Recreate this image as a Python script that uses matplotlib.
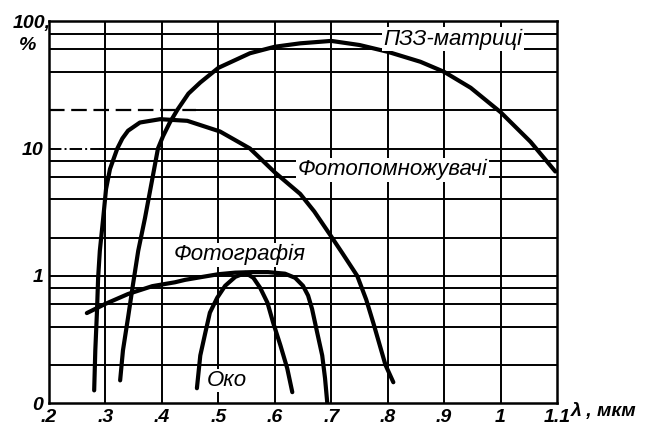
import matplotlib.pyplot as plt

plt.rcParams['font.family'] = ['Liberation Sans', 'DejaVu Sans']

# wavelength (мкм) / sensitivity (%)
ccd_x = [0.326, 0.331, 0.340, 0.349, 0.358, 0.370, 0.384, 0.393, 0.402, 0.414, 0.427, 0.447,
         0.468, 0.500, 0.556, 0.600, 0.645, 0.700, 0.750, 0.800, 0.858, 0.900, 0.947, 1.000,
         1.053, 1.097]
ccd_y = [0.151, 0.26, 0.47, 0.87, 1.57, 2.84, 6.1, 10.0, 12.5, 16.0, 20.0, 27.0,
         33.0, 43.0, 56.0, 63.0, 67.0, 70.0, 65.0, 57.5, 48.0, 40.0, 30.0, 19.3,
         11.3, 6.6]

pmt_x = [0.280, 0.282, 0.285, 0.287, 0.290, 0.296, 0.301, 0.308, 0.321, 0.330, 0.340, 0.361,
         0.397, 0.445, 0.503, 0.556, 0.600, 0.645, 0.670, 0.698, 0.720, 0.746, 0.762,
         0.775, 0.796, 0.810]
pmt_y = [0.126, 0.26, 0.53, 0.965, 1.57, 2.84, 4.8, 6.9, 10.0, 12.0, 13.8, 16.0,
         17.0, 16.5, 13.6, 10.0, 6.5, 4.4, 3.2, 2.1, 1.5, 1.0, 0.65,
         0.42, 0.20, 0.146]

photo_x = [0.267, 0.299, 0.340, 0.383, 0.423, 0.441, 0.471, 0.500, 0.530, 0.560, 0.588,
           0.618, 0.636, 0.650, 0.659, 0.666, 0.675, 0.684, 0.689, 0.693]
photo_y = [0.51, 0.60, 0.72, 0.83, 0.89, 0.93, 0.98, 1.03, 1.06, 1.07, 1.07,
           1.04, 0.965, 0.835, 0.70, 0.55, 0.36, 0.237, 0.157, 0.10]

eye_x = [0.462, 0.468, 0.477, 0.485, 0.498, 0.512, 0.530, 0.548, 0.562, 0.574, 0.587,
         0.597, 0.610, 0.622, 0.631]
eye_y = [0.131, 0.237, 0.359, 0.514, 0.673, 0.835, 0.982, 1.055, 0.965, 0.806, 0.615,
         0.430, 0.284, 0.188, 0.122]

grid_x = [0.3, 0.4, 0.5, 0.6, 0.7, 0.8, 0.9, 1.0]
grid_y = [0.2, 0.4, 0.6, 0.8, 1, 2, 4, 6, 8, 40, 60, 80]

x_ticks = [0.2, 0.3, 0.4, 0.5, 0.6, 0.7, 0.8, 0.9, 1.0, 1.1]
x_labels = ['.2', '.3', '.4', '.5', '.6', '.7', '.8', '.9', '1', '1.1']
y_ticks = [0.1, 1, 10]
y_labels = ['0', '1', '10']

fig = plt.figure(figsize=(6.45, 4.28), dpi=100)
ax = fig.add_axes([0.076, 0.058, 0.7876, 0.8925])
ax.set_yscale('log')
ax.set_xlim(0.2, 1.1)
ax.set_ylim(0.1, 100)

for x in grid_x:
    ax.axvline(x, color='black', lw=1.4, zorder=1)
for y in grid_y:
    ax.axhline(y, color='black', lw=1.4, zorder=1)
# 10 % line is dash-dotted and 20 % line dashed on the left
ax.plot([0.2, 0.29], [10, 10], color='black', lw=1.4, ls='-.', zorder=1)
ax.plot([0.29, 1.1], [10, 10], color='black', lw=1.4, zorder=1)
ax.plot([0.2, 0.46], [20, 20], color='black', lw=1.6, ls=(0, (7, 3)), zorder=1)
ax.plot([0.46, 1.1], [20, 20], color='black', lw=1.4, zorder=1)

for xs, ys in [(ccd_x, ccd_y), (pmt_x, pmt_y), (photo_x, photo_y), (eye_x, eye_y)]:
    ax.plot(xs, ys, color='black', lw=3.0, solid_capstyle='round',
            solid_joinstyle='round', zorder=3)

box = dict(facecolor='white', edgecolor='none', pad=1.0)
txt = dict(fontsize=16, style='italic', color='black', zorder=4, bbox=box)
ax.text(0.792, 72, 'ПЗЗ-матриці', ha='left', va='center', **txt)
ax.text(0.640, 6.8, 'Фотопомножувачі', ha='left', va='center', **txt)
ax.text(0.420, 1.46, 'Фотографія', ha='left', va='center', **txt)
ax.text(0.480, 0.151, 'Око', ha='left', va='center', **txt)

ax.set_xticks(x_ticks)
ax.set_xticklabels(x_labels, fontsize=14, style='italic', fontweight='bold')
ax.set_yticks(y_ticks)
ax.set_yticklabels(y_labels, fontsize=14, style='italic', fontweight='bold')
ax.minorticks_off()
ax.tick_params(length=0, pad=4)
for s in ax.spines.values():
    s.set_linewidth(1.8)

fig.text(0.019, 0.945, '100,', fontsize=14, style='italic', fontweight='bold', va='center')
fig.text(0.030, 0.893, '%', fontsize=14, style='italic', fontweight='bold', va='center')
fig.text(0.885, 0.038, 'λ , мкм', fontsize=14, style='italic', fontweight='bold', va='center')

fig.savefig('out.png', dpi=100)
